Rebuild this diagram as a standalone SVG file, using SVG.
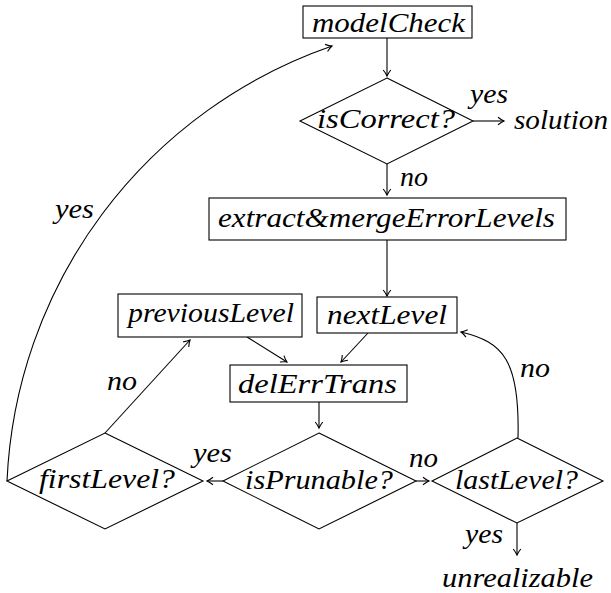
<svg xmlns="http://www.w3.org/2000/svg" width="611" height="593" viewBox="0 0 611 593">
<style>
text{font-family:"Liberation Serif","Times New Roman",serif;font-style:italic;font-size:27.5px;fill:#000}
.n{fill:#fff;stroke:#000;stroke-width:1.1}
.c{fill:none;stroke:#000;stroke-width:1.1;marker-end:url(#arr)}
</style>
<defs>
<marker id="arr" viewBox="-8 -6 10 12" refX="0" refY="0" markerWidth="10" markerHeight="12" orient="auto" markerUnits="userSpaceOnUse">
<path d="M-6,-3.8 Q-2.5,-1 0,0 Q-2.5,1 -6,3.8" fill="none" stroke="#000" stroke-width="1.1"/>
</marker>
</defs>
<rect width="611" height="593" fill="#fff"/>
<g id="connectors">
<path class="c" d="M387,38 L387,76"/>
<path class="c" d="M473,121 L504,121"/>
<path class="c" d="M387,164 L387,195"/>
<path class="c" d="M387,240 L387,296"/>
<path class="c" d="M247,337 L287,362"/>
<path class="c" d="M368,333 L341,362"/>
<path class="c" d="M319,402 L319,428"/>
<path class="c" d="M223,481 L207,481"/>
<path class="c" d="M416,481 L429,481"/>
<path class="c" d="M517,523 L517,555"/>
<path class="c" d="M518,438 C520,360 503,342 461,332"/>
<path class="c" d="M105,433 L190,340"/>
<path class="c" d="M7,481 A483,483 0 0,1 332,46"/>
<text x="470" y="103" textLength="38" lengthAdjust="spacingAndGlyphs">yes</text>
<text x="400" y="186" textLength="28" lengthAdjust="spacingAndGlyphs">no</text>
<text x="55" y="218" textLength="39" lengthAdjust="spacingAndGlyphs">yes</text>
<text x="107" y="390" textLength="30" lengthAdjust="spacingAndGlyphs">no</text>
<text x="520" y="377" textLength="30" lengthAdjust="spacingAndGlyphs">no</text>
<text x="193" y="462" textLength="39" lengthAdjust="spacingAndGlyphs">yes</text>
<text x="409" y="467" textLength="29" lengthAdjust="spacingAndGlyphs">no</text>
<text x="465" y="543" textLength="38" lengthAdjust="spacingAndGlyphs">yes</text>
</g>
<g id="modelCheck">
<rect class="n" x="303" y="6" width="169" height="32"/>
<text x="312" y="32" textLength="153" lengthAdjust="spacingAndGlyphs">modelCheck</text>
</g>
<g id="isCorrect">
<polygon class="n" points="387,78 473,121 387,164 300,121"/>
<text x="317" y="128" textLength="138" lengthAdjust="spacingAndGlyphs">isCorrect?</text>
</g>
<g id="solution">
<text x="514" y="129" textLength="94" lengthAdjust="spacingAndGlyphs">solution</text>
</g>
<g id="extract">
<rect class="n" x="209" y="198" width="357" height="42"/>
<text x="218" y="227" textLength="337" lengthAdjust="spacingAndGlyphs">extract&amp;mergeErrorLevels</text>
</g>
<g id="previousLevel">
<rect class="n" x="118" y="294" width="184" height="43"/>
<text x="128" y="322" textLength="166" lengthAdjust="spacingAndGlyphs">previousLevel</text>
</g>
<g id="nextLevel">
<rect class="n" x="317" y="297" width="140" height="36"/>
<text x="327" y="324" textLength="120" lengthAdjust="spacingAndGlyphs">nextLevel</text>
</g>
<g id="delErrTrans">
<rect class="n" x="230" y="365" width="177" height="37"/>
<text x="238" y="393" textLength="159" lengthAdjust="spacingAndGlyphs">delErrTrans</text>
</g>
<g id="firstLevel">
<polygon class="n" points="105,433 203,481 105,529 7,481"/>
<text x="39" y="488" textLength="136" lengthAdjust="spacingAndGlyphs">firstLevel?</text>
</g>
<g id="isPrunable">
<polygon class="n" points="319,433 416,481 319,529 223,481"/>
<text x="245" y="489" textLength="148" lengthAdjust="spacingAndGlyphs">isPrunable?</text>
</g>
<g id="lastLevel">
<polygon class="n" points="517,438 603,481 517,523 432,481"/>
<text x="455" y="489" textLength="123" lengthAdjust="spacingAndGlyphs">lastLevel?</text>
</g>
<g id="unrealizable">
<text x="442" y="587" textLength="151" lengthAdjust="spacingAndGlyphs">unrealizable</text>
</g>
</svg>
